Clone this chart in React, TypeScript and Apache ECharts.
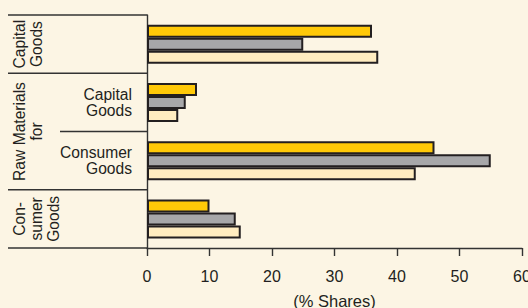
import React, { useEffect, useRef } from "react";
import * as echarts from "echarts";

const categories = [
  "Capital Goods",
  "Raw Materials for Capital Goods",
  "Raw Materials for Consumer Goods",
  "Consumer Goods",
];
const seriesYellow = [36, 8, 46, 10];
const seriesGrey = [25, 6.2, 55, 14.2];
const seriesCream = [37, 5, 43, 15];
const xTicks = { min: 0, max: 60, interval: 10 };
const xAxisName = "(% Shares)";
const outerLabels = ["Capital\nGoods", "Raw Materials\nfor", "Con-\nsumer\nGoods"];
const innerLabels = ["Capital\nGoods", "Consumer\nGoods"];

const W = 528;
const H = 308;
const GL = 147;
const GT = 15;
const GR = 522;
const GB = 248;
const INK = "#231F20";
const LINE = "#333333";
const FONT = "'Liberation Sans', Arial, Helvetica, sans-serif";

export default function App() {
  const ref = useRef<HTMLDivElement>(null);
  useEffect(() => {
    document.body.style.margin = "0";
    const chart = echarts.init(ref.current!, null, { renderer: "svg" });
    const band = (GB - GT) / categories.length;
    const lineStyle = { stroke: LINE, lineWidth: 1.4 };
    const hLine = (x1: number, y: number) => ({
      type: "line",
      shape: { x1, y1: y, x2: GL, y2: y },
      style: lineStyle,
      silent: true,
    });
    const rotText = (text: string, x: number, y: number) => ({
      type: "text",
      x,
      y,
      rotation: Math.PI / 2,
      style: {
        text,
        fill: INK,
        font: `15.6px ${FONT}`,
        align: "center",
        verticalAlign: "middle",
        lineHeight: 17,
      },
    });
    const rightText = (text: string, x: number, y: number) => ({
      type: "text",
      x,
      y,
      style: {
        text,
        fill: INK,
        font: `15.6px ${FONT}`,
        align: "right",
        verticalAlign: "middle",
        lineHeight: 16,
      },
    });
    const barStyle = (color: string) => ({
      color,
      borderColor: INK,
      borderWidth: 2,
    });
    chart.setOption({
      animation: false,
      backgroundColor: "#FCF5E4",
      textStyle: { fontFamily: FONT },
      grid: {
        left: GL,
        top: GT,
        right: W - GR,
        bottom: H - GB,
        containLabel: false,
        outerBoundsMode: "none",
      },
      xAxis: {
        type: "value",
        min: xTicks.min,
        max: xTicks.max,
        interval: xTicks.interval,
        name: xAxisName,
        nameLocation: "middle",
        nameGap: 44,
        nameTextStyle: { fontSize: 16.5, color: INK, verticalAlign: "top" },
        axisLine: { show: true, lineStyle: { color: LINE, width: 1.4 } },
        axisTick: { show: true, length: 8, lineStyle: { color: LINE, width: 1.4 } },
        axisLabel: { fontSize: 16, color: INK, margin: 20 },
        splitLine: { show: false },
      },
      yAxis: {
        type: "category",
        data: categories,
        inverse: true,
        axisLine: { show: true, lineStyle: { color: LINE, width: 1.4 } },
        axisTick: { show: false },
        axisLabel: { show: false },
        splitLine: { show: false },
      },
      series: [
        { type: "bar", data: seriesYellow, barWidth: 13, barGap: "0%", itemStyle: barStyle("#FFC908") },
        { type: "bar", data: seriesGrey, barWidth: 13, barGap: "0%", itemStyle: barStyle("#A7A7A9") },
        { type: "bar", data: seriesCream, barWidth: 13, barGap: "0%", itemStyle: barStyle("#FFECC0") },
      ],
      graphic: [
        hLine(8, GT),
        hLine(8, GT + band),
        hLine(60, GT + 2 * band),
        hLine(8, GT + 3 * band),
        hLine(8, GB),
        rotText(outerLabels[0], 27.5, GT + band / 2),
        rotText(outerLabels[1], 27.5, GT + 2 * band),
        rotText(outerLabels[2], 36, GT + 3.5 * band),
        rightText(innerLabels[0], 132, GT + 1.5 * band),
        rightText(innerLabels[1], 132, GT + 2.5 * band),
      ],
    });
    return () => chart.dispose();
  }, []);
  return <div ref={ref} style={{ width: W, height: H }} />;
}
